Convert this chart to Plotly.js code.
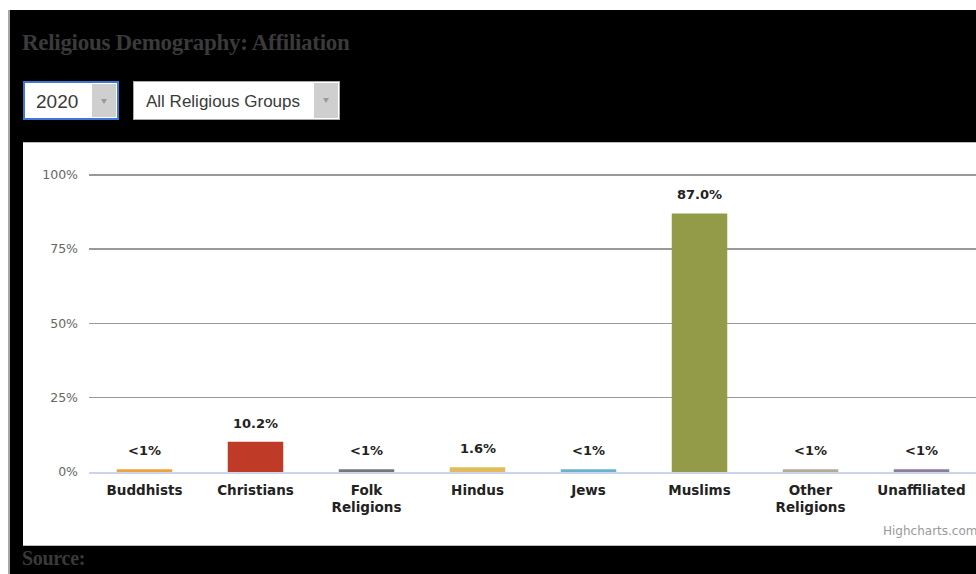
<!DOCTYPE html>
<html>
<head>
<meta charset="utf-8">
<script src="https://cdn.plot.ly/plotly-3.0.1.min.js"></script>
<style>
  html, body { margin:0; padding:0; background:#fff; width:976px; height:574px; overflow:hidden; }
  #edge { position:absolute; left:8px; top:10px; width:2px; height:564px; background:#a8a8a0; }
  #frame { position:absolute; left:10px; top:10px; width:966px; height:564px; background:#000; }
  #title { position:absolute; left:22px; top:30px; font-family:"Liberation Serif", serif; font-weight:bold;
           font-size:23px; color:#3a3a3a; letter-spacing:-0.3px; }
  .sel { position:absolute; top:81px; height:39px; background:#fff; border:1px solid #aaa; box-sizing:border-box;
         font-family:"Liberation Sans", Arial, sans-serif; color:#3a3a3a; }
  .sel span.t { position:absolute; }
  .sel .arr { position:absolute; right:1px; top:1px; bottom:1px; width:24px; background:#cfcfcf; }
  .sel .arr:after { content:""; position:absolute; left:9px; top:15px; border-left:3px solid transparent;
         border-right:3px solid transparent; border-top:5px solid #999; }
  #sel1 { left:23px; width:96px; border:2px solid #3c78d8; }
  #sel2 { left:133px; width:207px; }
  #panel { position:absolute; left:23px; top:142px; width:953px; height:404px; background:#fff;
           border-top:1px solid #bbb; border-bottom:1px solid #bbb; box-sizing:border-box; overflow:hidden; }
  #chart { position:absolute; left:0; top:0; width:960px; height:402px; }
  #source { position:absolute; left:22px; top:547px; font-family:"Liberation Serif", serif; font-weight:bold;
            font-size:20px; color:#3a3a3a; letter-spacing:-0.3px; }
</style>
</head>
<body>
<div id="frame"></div>
<div id="edge"></div>
<div id="title">Religious Demography: Affiliation</div>
<div class="sel" id="sel1"><span class="t" style="left:11px;top:8px;font-size:19px;">2020</span><div class="arr"></div></div>
<div class="sel" id="sel2"><span class="t" style="left:12px;top:10px;font-size:17px;">All Religious Groups</span><div class="arr"></div></div>
<div id="panel"><div id="chart"></div></div>
<div id="source">Source:</div>
<script>
var categories = ["Buddhists", "Christians", "Folk<br>Religions", "Hindus", "Jews", "Muslims", "Other<br>Religions", "Unaffiliated"];
var values = [0.9, 10.2, 0.9, 1.6, 0.9, 87.0, 0.9, 0.9];
var colors = ["#f0a23c", "#bf3b27", "#777777", "#e3bb5c", "#6ab3cf", "#939b48", "#b5aa98", "#8c7d9c"];
var yTicks = [0, 25, 50, 75, 100];
var yTickLabels = ["0%", "25%", "50%", "75%", "100%"];

var labels = values.map(function (v) { return v < 1 ? "<1%" : v.toFixed(1) + "%"; });

var trace = {
  type: "bar",
  x: categories,
  y: values,
  width: 0.5,
  marker: { color: colors, line: { width: 0 } },
  hoverinfo: "none"
};

var annotations = categories.map(function (c, i) {
  return {
    x: c, y: values[i], xref: "x", yref: "y",
    text: labels[i], showarrow: false, yanchor: "bottom", yshift: 9,
    font: { family: "DejaVu Sans", size: 13, color: "#222", weight: "bold" }
  };
});
annotations.push({
  x: 1, y: 0, xref: "paper", yref: "paper", xanchor: "right", yanchor: "top",
  xshift: 2, yshift: -50, text: "Highcharts.com", showarrow: false,
  font: { family: "DejaVu Sans", size: 12, color: "#999" }
});

var layout = {
  width: 960, height: 402,
  margin: { l: 66, r: 6, t: 30, b: 73 },
  paper_bgcolor: "#ffffff", plot_bgcolor: "#ffffff",
  showlegend: false,
  xaxis: {
    type: "category",
    range: [-0.5, 7.5],
    showgrid: false,
    zeroline: false,
    showline: true, linecolor: "#ccd6eb", linewidth: 1.5,
    ticks: "", ticklabelstandoff: 5,
    tickfont: { family: "DejaVu Sans", size: 13.5, color: "#222", weight: "bold" },
    automargin: false
  },
  yaxis: {
    range: [0, 100.6],
    tickvals: yTicks, ticktext: yTickLabels,
    showgrid: true, gridcolor: "#999999", gridwidth: 1.5,
    zeroline: false, showline: false,
    ticks: "", ticklabelstandoff: 10,
    tickfont: { family: "DejaVu Sans", size: 12.5, color: "#666" },
    automargin: false
  },
  annotations: annotations
};

Plotly.newPlot("chart", [trace], layout, { staticPlot: true, displayModeBar: false });
</script>
</body>
</html>
